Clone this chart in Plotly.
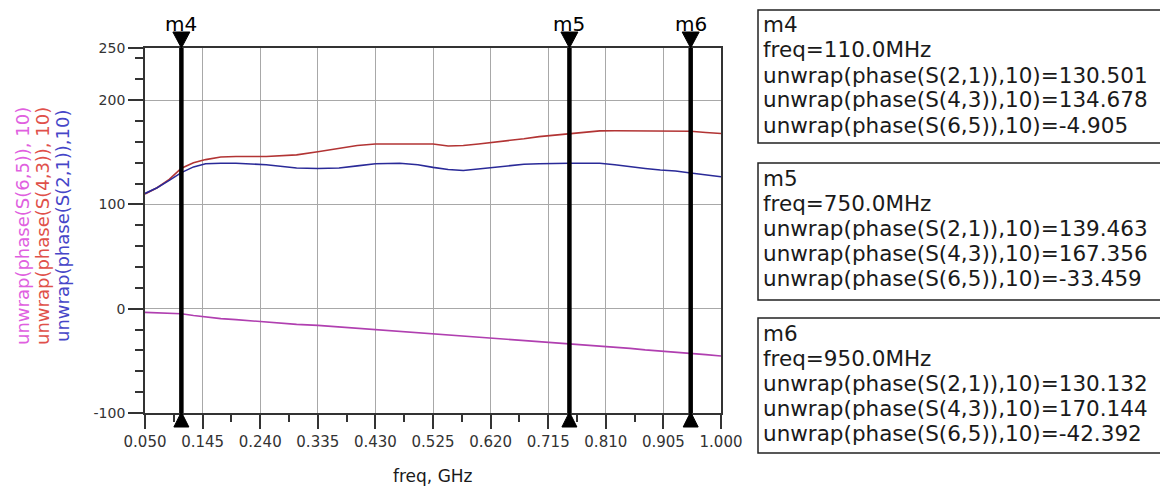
import plotly.graph_objects as go

# ---------------- data ----------------
freq_ghz = [0.05, 0.07, 0.09, 0.11, 0.13, 0.15, 0.175, 0.2, 0.25, 0.3, 0.335, 0.37, 0.4, 0.43,
            0.47, 0.5, 0.525, 0.55, 0.575, 0.6, 0.625, 0.65, 0.675, 0.7, 0.725, 0.75, 0.775,
            0.8, 0.825, 0.85, 0.875, 0.9, 0.925, 0.95, 0.975, 1.0]

s21_phase = [110.5, 116, 123, 130.5, 136, 139, 139.5, 139.5, 138, 135, 134.5, 135, 137, 139,
             139.5, 138, 135.5, 133.5, 132.5, 134, 136, 137.5, 138.5, 139, 139.5, 139.5, 139.5,
             139.5, 138, 136, 134.5, 133, 132, 130.1, 128.5, 126.5]

s43_phase = [110, 116, 124, 134.7, 140, 143, 145.5, 146, 146, 147.5, 150.5, 154, 156.5, 158,
             158, 158, 158, 156, 156.5, 158, 159.5, 161, 163, 165, 166.5, 167.4, 169, 170.5,
             170.6, 170.6, 170.6, 170.6, 170.5, 170.1, 169, 168]

s65_phase = [-3.5, -4, -4.5, -4.9, -6.5, -8, -9.5, -10.5, -13, -15, -16, -17.5, -19, -20.4,
             -21.5, -23, -24, -25, -26, -27, -28.5, -29.5, -30.5, -31.5, -32.5, -33.5, -34.5,
             -35.5, -37, -38, -39.5, -40.5, -41.5, -42.4, -44, -45.3]

marker_names = ["m4", "m5", "m6"]
marker_freq_ghz = [0.110, 0.750, 0.950]
marker_s21 = [130.501, 139.463, 130.132]
marker_s43 = [134.678, 167.356, 170.144]
marker_s65 = [-4.905, -33.459, -42.392]

y_tick_vals = [-100, 0, 100, 200, 250]
y_minor_vals = list(range(-100, 260, 20))

series_names = ["unwrap(phase(S(2,1)),10)", "unwrap(phase(S(4,3)), 10)", "unwrap(phase(S(6,5)), 10)"]

# ---------------- styling ----------------
FONT = "DejaVu Sans"
W, H = 1168, 490
OFF = 8  # default page margin of the html body
PL, PR, PT, PB = 145, 721, 48, 413


def px(x):
    return (x - PL) / (PR - PL)


def py(y):
    return (PB - y) / (PB - PT)


line_colors = {"s21": "#2a2a98", "s43": "#b23434", "s65": "#b03fb0"}
title_colors = {"s21": "#4646c8", "s43": "#e0504a", "s65": "#e060e0"}

fig = go.Figure()
fig.add_trace(go.Scatter(x=freq_ghz, y=s43_phase, mode="lines",
                         line=dict(color=line_colors["s43"], width=1.6), showlegend=False))
fig.add_trace(go.Scatter(x=freq_ghz, y=s21_phase, mode="lines",
                         line=dict(color=line_colors["s21"], width=1.6), showlegend=False))
fig.add_trace(go.Scatter(x=freq_ghz, y=s65_phase, mode="lines",
                         line=dict(color=line_colors["s65"], width=1.6), showlegend=False))

shapes = []
annotations = []

# marker lines, triangles and labels
for name, f in zip(marker_names, marker_freq_ghz):
    shapes.append(dict(type="line", xref="x", yref="paper", x0=f, x1=f, y0=0, y1=1,
                       line=dict(color="black", width=4.5), layer="above"))
    shapes.append(dict(type="path", xref="x", yref="paper", xsizemode="pixel", ysizemode="pixel",
                       xanchor=f, yanchor=1, path="M -8.5,16 L 8.5,16 L 0,0 Z",
                       fillcolor="black", line=dict(color="black", width=1), layer="above"))
    shapes.append(dict(type="path", xref="x", yref="paper", xsizemode="pixel", ysizemode="pixel",
                       xanchor=f, yanchor=0, path="M -7.5,-14 L 7.5,-14 L 0,1 Z",
                       fillcolor="black", line=dict(color="black", width=1), layer="above"))
    annotations.append(dict(x=f, xref="x", y=py(24), yref="paper", text=name, showarrow=False,
                            xanchor="center", yanchor="middle",
                            font=dict(family=FONT, size=20, color="black")))

# marker readout boxes
box_tops = [10, 163, 318]
box_bottoms = [143, 300, 453]
BX0, BX1 = 758, 1162
for i, name in enumerate(marker_names):
    shapes.append(dict(type="rect", xref="paper", yref="paper",
                       x0=px(BX0), x1=px(BX1), y0=py(box_bottoms[i]), y1=py(box_tops[i]),
                       line=dict(color="#222", width=1.5), fillcolor="white", layer="below"))
    lines = [
        name,
        "freq=%.1fMHz" % (marker_freq_ghz[i] * 1000),
        "unwrap(phase(S(2,1)),10)=%.3f" % marker_s21[i],
        "unwrap(phase(S(4,3)),10)=%.3f" % marker_s43[i],
        "unwrap(phase(S(6,5)),10)=%.3f" % marker_s65[i],
    ]
    for j, t in enumerate(lines):
        annotations.append(dict(x=px(BX0 + 3), xref="paper", y=py(box_tops[i] + 15 + 25 * j),
                                yref="paper", text=t, showarrow=False, xanchor="left",
                                yanchor="middle",
                                font=dict(family=FONT, size=21.5, color="#1a1a1a")))

# rotated y titles
for xpos, key, txt in [(22, "s65", series_names[2]), (42, "s43", series_names[1]),
                       (62, "s21", series_names[0])]:
    annotations.append(dict(x=px(xpos), xref="paper", y=py(226), yref="paper", text=txt,
                            textangle=-90, showarrow=False, xanchor="center", yanchor="middle",
                            font=dict(family=FONT, size=18, color=title_colors[key])))

# x-axis title
annotations.append(dict(x=0.5, xref="paper", y=py(476), yref="paper", text="freq, GHz",
                        showarrow=False, xanchor="center", yanchor="middle",
                        font=dict(family=FONT, size=17, color="#1a1a1a")))

fig.update_layout(
    width=W - OFF, height=H - OFF,
    margin=dict(l=PL - OFF, r=W - PR, t=PT - OFF, b=H - PB, autoexpand=False),
    paper_bgcolor="white", plot_bgcolor="rgba(0,0,0,0)",
    font=dict(family=FONT, color="#333"),
    shapes=shapes, annotations=annotations, showlegend=False,
)
fig.update_xaxes(
    range=[0.05, 1.0], tickmode="linear", tick0=0.05, dtick=0.095, tickformat=".3f",
    ticks="outside", ticklen=14, tickwidth=1.5, tickcolor="#333",
    tickfont=dict(family=FONT, size=15, color="#333"),
    showgrid=True, gridcolor="#a8a8a8", gridwidth=1,
    showline=True, mirror=True, linecolor="#333", linewidth=1.8,
    zeroline=False,
    minor=dict(tick0=0.05, dtick=0.0475, ticks="outside", ticklen=7, tickwidth=1.5,
               tickcolor="#333", showgrid=False),
)
fig.update_yaxes(
    range=[-100, 250], tickmode="array", tickvals=y_tick_vals,
    ticktext=[str(v) for v in y_tick_vals],
    ticks="outside", ticklen=15, tickwidth=1.5, tickcolor="#333",
    tickfont=dict(family=FONT, size=14, color="#333"),
    showgrid=True, gridcolor="#a8a8a8", gridwidth=1,
    showline=True, mirror=True, linecolor="#333", linewidth=1.8,
    zeroline=False,
    minor=dict(tickmode="array", tickvals=y_minor_vals, ticks="outside", ticklen=8,
               tickwidth=1.5, tickcolor="#333", showgrid=False),
)

fig.write_html("out.html")
